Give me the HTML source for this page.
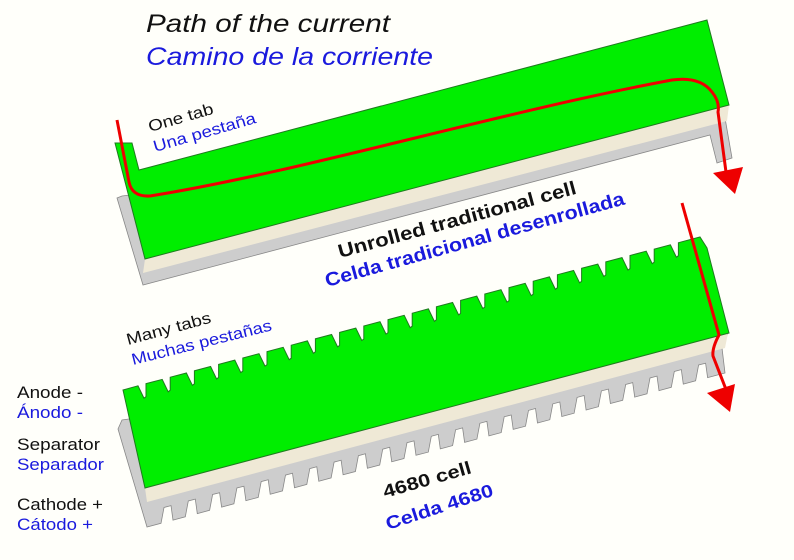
<!DOCTYPE html>
<html><head><meta charset="utf-8"><style>
html,body{margin:0;padding:0;background:#fffffa;}
svg{display:block;font-family:"Liberation Sans",sans-serif;}
</style></head><body>
<svg id="s" width="794" height="560" viewBox="0 0 794 560" xmlns="http://www.w3.org/2000/svg">
<rect width="794" height="560" fill="#fffffa"/>
<!-- Top cell cathode -->
<polygon points="117,198 143,285 710,135 717,163 732,158 725,118 122,196" fill="#cdcdcd" stroke="#888" stroke-width="0.8"/>
<polygon points="145,259 729,105 727,121 143,273" fill="#efe9d6"/>
<!-- Top cell anode -->
<polygon points="115,143 132,143 139,170 707,20 729,105 145,259" fill="#00ee00" stroke="#1f7a1f" stroke-width="1"/>
<!-- red path top -->
<path d="M117,120 L129,182 Q132,197 150,196 C300,172 500,112 672,80 Q700,76 712,92 Q720,102 718,112 L726,172" fill="none" stroke="#ee0000" stroke-width="3"/>
<polygon points="713,173 743,167 735,194" fill="#ee0000"/>
<!-- bottom cell -->
<polygon id="gray2" fill="#cdcdcd" stroke="#888" stroke-width="0.8"/>
<polygon points="145,488 728,333 725,348 147,502" fill="#efe9d6"/>
<polygon id="green2" fill="#00ee00" stroke="#1f7a1f" stroke-width="1"/>
<path d="M682,203 L719,335 Q712,348 713,356 L727,392" fill="none" stroke="#ee0000" stroke-width="3"/>
<polygon points="707,393 735,384 730,412" fill="#ee0000"/>
<!-- texts -->
<text x="146" y="32" font-size="25" font-style="italic" fill="#111" textLength="244" lengthAdjust="spacingAndGlyphs">Path of the current</text>
<text x="146" y="65" font-size="25" font-style="italic" fill="#1a1add" textLength="287" lengthAdjust="spacingAndGlyphs">Camino de la corriente</text>
<text transform="translate(150,132) rotate(-16)" font-size="16" fill="#111" textLength="67" lengthAdjust="spacingAndGlyphs">One tab</text>
<text transform="translate(155,152) rotate(-16)" font-size="16" fill="#1a1add" textLength="106" lengthAdjust="spacingAndGlyphs">Una pestaña</text>
<text transform="translate(340,258) rotate(-15.2)" font-size="19" font-weight="bold" fill="#111" textLength="246" lengthAdjust="spacingAndGlyphs">Unrolled traditional cell</text>
<text transform="translate(327,287) rotate(-15.5)" font-size="19" font-weight="bold" fill="#1a1add" textLength="310" lengthAdjust="spacingAndGlyphs">Celda tradicional desenrollada</text>
<text transform="translate(128,345) rotate(-15)" font-size="16" fill="#111" textLength="87" lengthAdjust="spacingAndGlyphs">Many tabs</text>
<text transform="translate(133,365) rotate(-14)" font-size="16" fill="#1a1add" textLength="144" lengthAdjust="spacingAndGlyphs">Muchas pestañas</text>
<text transform="translate(385,498) rotate(-16)" font-size="18" font-weight="bold" fill="#111" textLength="91" lengthAdjust="spacingAndGlyphs">4680 cell</text>
<text transform="translate(388,530) rotate(-18)" font-size="18" font-weight="bold" fill="#1a1add" textLength="112" lengthAdjust="spacingAndGlyphs">Celda 4680</text>
<g font-size="17">
<text x="17" y="398" fill="#111" textLength="66" lengthAdjust="spacingAndGlyphs">Anode -</text>
<text x="17" y="418" fill="#1a1add" textLength="66" lengthAdjust="spacingAndGlyphs">Ánodo -</text>
<text x="17" y="450" fill="#111" textLength="83" lengthAdjust="spacingAndGlyphs">Separator</text>
<text x="17" y="470" fill="#1a1add" textLength="87" lengthAdjust="spacingAndGlyphs">Separador</text>
<text x="17" y="510" fill="#111" textLength="86" lengthAdjust="spacingAndGlyphs">Cathode +</text>
<text x="17" y="530" fill="#1a1add" textLength="76" lengthAdjust="spacingAndGlyphs">Cátodo +</text>
</g>
</svg>
<script>
(function(){
  function ty(x){return 390+(x-122)*(237-390)/(700-122);}
  var p=[[145,488],[123,390]];
  for(var x=138;x<690;x+=24.2){
    p.push([x,ty(x)]);p.push([x+6,ty(x+6)+14]);p.push([x+8,ty(x+8)+13]);p.push([x+8,ty(x+8)]);
  }
  p.push([700,237]);p.push([707,248]);p.push([729,333]);
  document.getElementById('green2').setAttribute('points',p.map(function(a){return a[0].toFixed(1)+','+a[1].toFixed(1)}).join(' '));
  function by(x){return 527+(x-147)*(373-527)/(725-147);}
  var q=[[118,429],[147,527]];
  for(var x=161;x<715;x+=24.3){
    q.push([x,by(x)]);q.push([x+3,by(x+3)-15]);q.push([x+10,by(x+10)-15]);q.push([x+12,by(x+12)]);
  }
  q.push([725,373]);q.push([722,348]);q.push([728,333]);q.push([122,420]);
  document.getElementById('gray2').setAttribute('points',q.map(function(a){return a[0].toFixed(1)+','+a[1].toFixed(1)}).join(' '));
})();
</script>
</body></html>
